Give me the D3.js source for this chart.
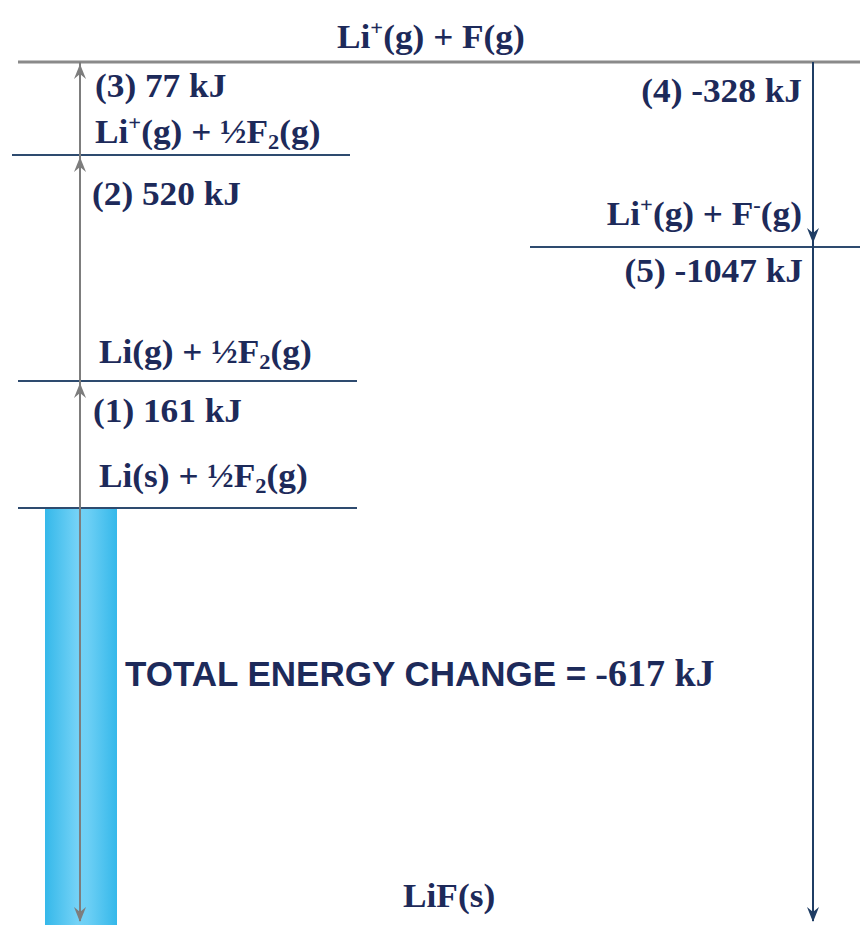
<!DOCTYPE html>
<html>
<head>
<meta charset="utf-8">
<script src="https://cdn.jsdelivr.net/npm/d3@7"></script>
<style>
  body { margin: 0; background: #fff; }
  svg { display: block; }
</style>
</head>
<body>
<svg id="cycle" width="860" height="925"></svg>
<script>
// Born-Haber cycle of LiF (kJ). "^" = superscript char, "_" = subscript char
const stepNames = ["(1)", "(2)", "(3)", "(4)", "(5)"];
const stepValues = [161, 520, 77, -328, -1047];
const levelNames = ["Li(s) + ½F_2(g)", "Li(g) + ½F_2(g)", "Li^+(g) + ½F_2(g)", "Li^+(g) + F(g)", "Li^+(g) + F^-(g)", "LiF(s)"];
const levelEnergies = [0, 161, 681, 758, 430, -617];

const svg = d3.select('#cycle')
const navy = '#1d2a5a'

// the diagram is not drawn to scale, so use a piecewise scale through the levels
const sorted = levelEnergies.slice().sort(d3.ascending)
const y = d3.scaleLinear().domain(sorted).range([925, 508, 381, 247, 155, 62])

const leftX = 80, rightX = 813

// blue bar for total energy change
const grad = svg.append('defs').append('linearGradient')
  .attr('id', 'barGrad').attr('x1', '0%').attr('x2', '100%')
grad.selectAll('stop').data([
  {o: '0%', c: '#35b8ea'}, {o: '45%', c: '#74d2f6'}, {o: '60%', c: '#6ccff5'}, {o: '100%', c: '#35b8ea'}
]).enter().append('stop').attr('offset', d => d.o).attr('stop-color', d => d.c)

const total = d3.sum(stepValues)
svg.append('rect')
  .attr('x', 45).attr('width', 72)
  .attr('y', y(0)).attr('height', y(total) - y(0))
  .attr('fill', 'url(#barGrad)')

// level lines
const lineLayout = [
  {x1: 18, x2: 357, c: '#2e4b6f', w: 2},
  {x1: 18, x2: 357, c: '#2e4b6f', w: 2},
  {x1: 12, x2: 350, c: '#2e4b6f', w: 2},
  {x1: 18, x2: 860, c: '#8a8a8a', w: 3},
  {x1: 530, x2: 860, c: '#2e4b6f', w: 2},
  null
]
levelEnergies.forEach(function(e, i){
  const l = lineLayout[i]
  if(!l) return
  svg.append('line')
    .attr('x1', l.x1).attr('x2', l.x2)
    .attr('y1', y(e)).attr('y2', y(e))
    .attr('stroke', l.c).attr('stroke-width', l.w)
})

// arrows
function head(x, tip, dir, color){
  // dir -1 = pointing up, 1 = pointing down
  const p = d3.path()
  p.moveTo(x, tip)
  p.lineTo(x - 6, tip - dir * 15)
  p.lineTo(x, tip - dir * 10)
  p.lineTo(x + 6, tip - dir * 15)
  p.closePath()
  svg.append('path').attr('d', p.toString()).attr('fill', color)
}

const grey = '#7d7d7d', darkBlue = '#1f3d64'
svg.append('line')
  .attr('x1', leftX).attr('x2', leftX)
  .attr('y1', y(758)).attr('y2', y(total) - 4)
  .attr('stroke', grey).attr('stroke-width', 2)
// up arrows for steps 1-3
let e = 0
stepValues.slice(0, 3).forEach(function(v){
  e += v
  head(leftX, y(e) + 2, -1, grey)
})
head(leftX, y(total) - 3, 1, grey)

svg.append('line')
  .attr('x1', rightX).attr('x2', rightX)
  .attr('y1', y(758)).attr('y2', y(total) - 4)
  .attr('stroke', darkBlue).attr('stroke-width', 2)
head(rightX, y(758 + stepValues[3]) - 4, 1, darkBlue)
head(rightX, y(total) - 3, 1, darkBlue)

// rich text labels
function label(str, x, yy, anchor){
  const t = svg.append('text')
    .attr('transform', `translate(${x},${yy}) scale(1.07,1)`)
    .attr('text-anchor', anchor || 'start')
    .style('font-family', '"Liberation Serif", "Times New Roman", serif')
    .style('font-weight', 'bold')
    .style('font-size', '33px')
    .style('fill', navy)
  let shift = 0
  let i = 0
  while(i < str.length){
    const ch = str[i]
    if(ch == '^' || ch == '_'){
      const dy = ch == '^' ? -13 : 6
      t.append('tspan').attr('dy', dy - shift).style('font-size', '21px').text(str[i+1])
      shift = dy
      i += 2
    }else{
      let j = i
      while(j < str.length && str[j] != '^' && str[j] != '_') j++
      t.append('tspan').attr('dy', -shift).text(str.slice(i, j))
      shift = 0
      i = j
    }
  }
  return t
}

// level labels
label(levelNames[0], 99, y(levelEnergies[0]) - 21)
label(levelNames[1], 99, y(levelEnergies[1]) - 18)
label(levelNames[2], 95, y(levelEnergies[2]) - 12)
label(levelNames[3], 337, y(levelEnergies[3]) - 14)
label(levelNames[4], 802, y(levelEnergies[4]) - 22, 'end')
label(levelNames[5], 403, y(levelEnergies[5]) - 18)

// step labels
const stepText = stepNames.map((s, i) => `${s} ${stepValues[i]} kJ`)
label(stepText[0], 93, y(161) + 41)
label(stepText[1], 92, y(681) + 50)
label(stepText[2], 95, y(758) + 35)
label(stepText[3], 802, y(758) + 40, 'end')
label(stepText[4], 803, y(430) + 35, 'end')

// total
const tt = svg.append('text')
  .attr('x', 125).attr('y', 686)
  .style('fill', navy)
  .style('font-family', '"Liberation Sans", Arial, sans-serif')
  .style('font-weight', 'bold')
  .style('font-size', '35px')
  .text('TOTAL ENERGY CHANGE =')
const w = tt.node().getComputedTextLength()
svg.append('text')
  .attr('x', 125 + w + 9).attr('y', 686)
  .style('fill', navy)
  .style('font-family', '"Liberation Serif", "Times New Roman", serif')
  .style('font-weight', 'bold')
  .style('font-size', '38px')
  .text(`${total} kJ`)
</script>
</body>
</html>
